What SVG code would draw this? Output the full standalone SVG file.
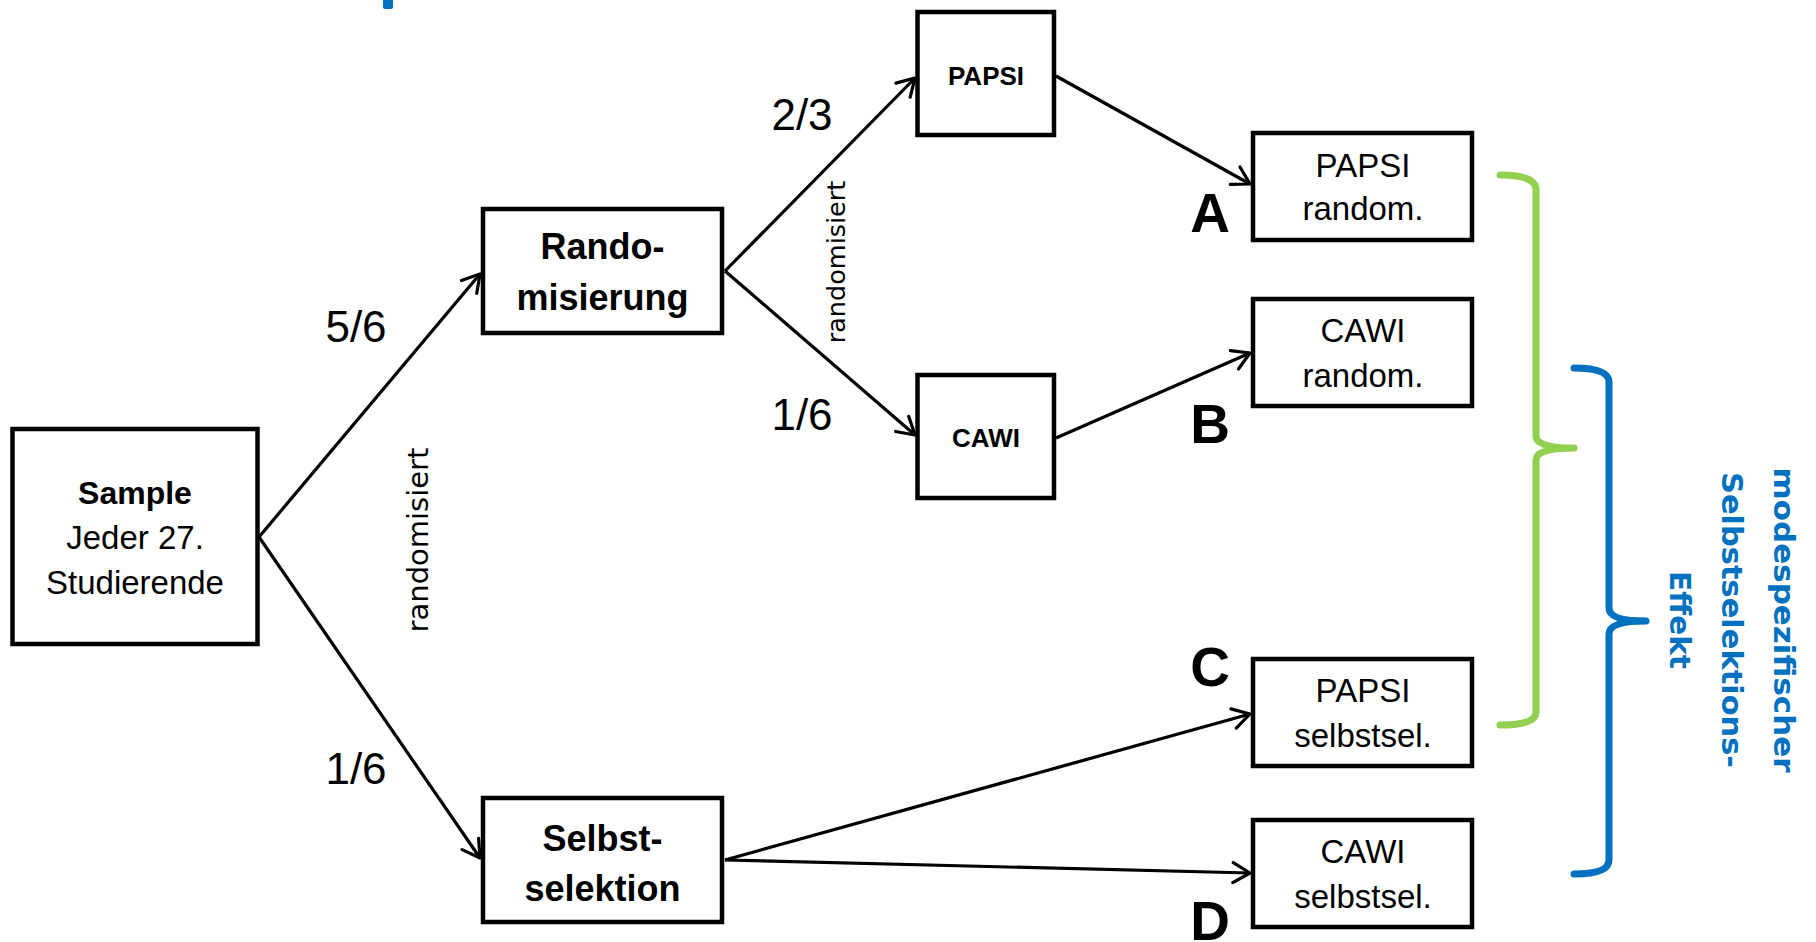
<svg xmlns="http://www.w3.org/2000/svg" width="1816" height="942" viewBox="0 0 1816 942">
<style>
.box{fill:#fff;stroke:#000;stroke-width:4.5}
.t{font-family:"Liberation Sans",Arial,sans-serif;font-size:33px;fill:#000;text-anchor:middle}
.tb{font-family:"Liberation Sans",Arial,sans-serif;font-weight:bold;font-size:36px;fill:#000;text-anchor:middle}
.ts{font-family:"Liberation Sans",Arial,sans-serif;font-weight:bold;font-size:26px;fill:#000;text-anchor:middle}
.frac{font-family:"Liberation Sans",Arial,sans-serif;font-size:44px;fill:#000;text-anchor:middle}
.let{font-family:"Liberation Sans",Arial,sans-serif;font-weight:bold;font-size:55px;fill:#000;text-anchor:end}
.rot{font-family:"DejaVu Sans",Verdana,sans-serif;fill:#000;text-anchor:middle}
.blue{font-family:"DejaVu Sans",Verdana,sans-serif;font-weight:bold;font-size:29px;fill:#0070C0;text-anchor:middle}
.conn line{stroke:#000;stroke-width:3.2;marker-end:url(#arr)}
.brace{fill:none;stroke-width:7;stroke-linecap:round;stroke-linejoin:round}
</style>
<defs>
<marker id="arr" markerUnits="userSpaceOnUse" markerWidth="24" markerHeight="24" viewBox="-20 -12 24 24" refX="0" refY="0" orient="auto">
<path d="M-17,-10 L0,0 L-17,10" fill="none" stroke="#000" stroke-width="3.2" stroke-linecap="round" stroke-linejoin="round"/>
</marker>
</defs>
<rect width="1816" height="942" fill="#fff"/>
<rect x="383" y="-5" width="10" height="14" rx="2" fill="#0070C0"/>
<g id="connectors" class="conn">
<line x1="259" y1="537" x2="480" y2="274"/>
<line x1="259" y1="537" x2="480" y2="858"/>
<line x1="725" y1="271" x2="915" y2="78"/>
<line x1="725" y1="271" x2="915" y2="435"/>
<line x1="1056" y1="76" x2="1250" y2="184"/>
<line x1="1056" y1="438" x2="1250" y2="353"/>
<line x1="725" y1="860" x2="1250" y2="714"/>
<line x1="725" y1="860" x2="1250" y2="873"/>
</g>
<g id="labels">
<text class="frac" x="356" y="342">5/6</text>
<text class="frac" x="356" y="784">1/6</text>
<text class="frac" x="802" y="130">2/3</text>
<text class="frac" x="802" y="430">1/6</text>
<text class="rot" font-size="29" transform="translate(428,540) rotate(-90)">randomisiert</text>
<text class="rot" font-size="25.5" transform="translate(845,262) rotate(-90)">randomisiert</text>
<text class="let" x="1230" y="232">A</text>
<text class="let" x="1230" y="443">B</text>
<text class="let" x="1230" y="686">C</text>
<text class="let" x="1230" y="940">D</text>
</g>
<g id="sample">
<rect class="box" x="12.5" y="429" width="245" height="215"/>
<text class="tb" style="font-size:32px" x="135" y="504">Sample</text>
<text class="t" x="135" y="549">Jeder 27.</text>
<text class="t" x="135" y="594">Studierende</text>
</g>
<g id="randomisierung">
<rect class="box" x="483" y="209" width="239" height="124"/>
<text class="tb" x="602.5" y="259">Rando-</text>
<text class="tb" x="602.5" y="310">misierung</text>
</g>
<g id="selbstselektion">
<rect class="box" x="483" y="798" width="239" height="124"/>
<text class="tb" x="602.5" y="851">Selbst-</text>
<text class="tb" x="602.5" y="901">selektion</text>
</g>
<g id="papsi">
<rect class="box" x="917.5" y="12" width="136.5" height="123"/>
<text class="ts" x="986" y="85">PAPSI</text>
</g>
<g id="cawi">
<rect class="box" x="917.5" y="375" width="136.5" height="123"/>
<text class="ts" x="986" y="447">CAWI</text>
</g>
<g id="papsi-random">
<rect class="box" x="1253" y="133" width="219" height="107"/>
<text class="t" x="1363" y="177">PAPSI</text>
<text class="t" x="1363" y="220">random.</text>
</g>
<g id="cawi-random">
<rect class="box" x="1253" y="299" width="219" height="107"/>
<text class="t" x="1363" y="342">CAWI</text>
<text class="t" x="1363" y="387">random.</text>
</g>
<g id="papsi-selbstsel">
<rect class="box" x="1253" y="659" width="219" height="107"/>
<text class="t" x="1363" y="702">PAPSI</text>
<text class="t" x="1363" y="747">selbstsel.</text>
</g>
<g id="cawi-selbstsel">
<rect class="box" x="1253" y="820" width="219" height="107"/>
<text class="t" x="1363" y="863">CAWI</text>
<text class="t" x="1363" y="908">selbstsel.</text>
</g>
<g id="brace-green">
<path class="brace" stroke="#92D050" d="M1500,175 Q1536,175 1536,190 L1536,436 Q1536,448 1574,448 Q1536,448 1536,460 L1536,712 Q1536,725 1500,725"/>
</g>
<g id="brace-blue">
<path class="brace" stroke="#0070C0" d="M1574,368 Q1609,368 1609,382 L1609,608 Q1609,621 1646,621 Q1609,621 1609,634 L1609,860 Q1609,874 1574,874"/>
</g>
<g id="effect-label">
<text class="blue" transform="translate(1774,620) rotate(90)" textLength="305" lengthAdjust="spacingAndGlyphs">modespezifischer</text>
<text class="blue" transform="translate(1722,620) rotate(90)" textLength="296" lengthAdjust="spacingAndGlyphs">Selbstselektions-</text>
<text class="blue" transform="translate(1670,620) rotate(90)" textLength="98" lengthAdjust="spacingAndGlyphs">Effekt</text>
</g>
</svg>
